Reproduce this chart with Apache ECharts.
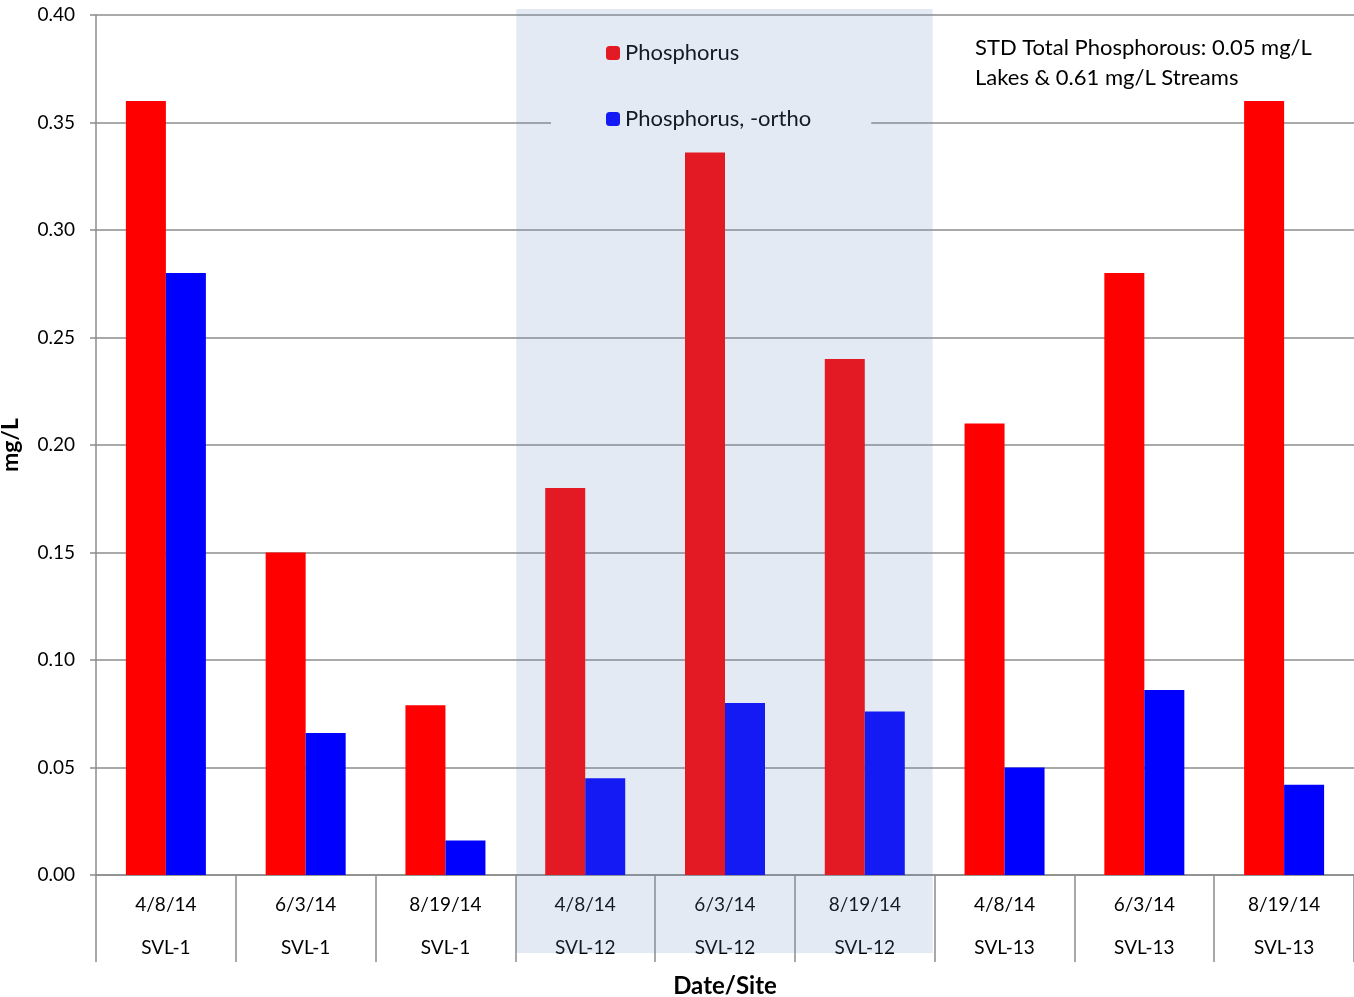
<!DOCTYPE html>
<html>
<head>
<meta charset="utf-8">
<script src="https://cdn.jsdelivr.net/npm/echarts@6/dist/echarts.min.js"></script>
<style>
  html, body { margin: 0; padding: 0; background: #fff; }
  #chart { width: 1354px; height: 997px; }
</style>
</head>
<body>
<div id="chart"></div>
<script>
  var dates = ['4/8/14', '6/3/14', '8/19/14', '4/8/14', '6/3/14', '8/19/14', '4/8/14', '6/3/14', '8/19/14'];
  var sites = ['SVL-1', 'SVL-1', 'SVL-1', 'SVL-12', 'SVL-12', 'SVL-12', 'SVL-13', 'SVL-13', 'SVL-13'];
  var phosphorus = [0.36, 0.15, 0.079, 0.18, 0.336, 0.24, 0.21, 0.28, 0.36];
  var orthoPhosphorus = [0.28, 0.066, 0.016, 0.045, 0.08, 0.076, 0.05, 0.086, 0.042];
  var yTicks = [0, 0.05, 0.10, 0.15, 0.20, 0.25, 0.30, 0.35, 0.40];
  var shadedFrom = 3, shadedTo = 5;

  var font = 'Lato, "Liberation Sans", sans-serif';
  var gridColor = '#8c8c8c';
  var categories = dates.map(function(d, i) { return d + '\n' + sites[i]; });

  var chart = echarts.init(document.getElementById('chart'), null, { renderer: 'canvas' });
  chart.setOption({
    animation: false,
    textStyle: { fontFamily: font },
    grid: { left: 96, right: 0, top: 15, bottom: 122, containLabel: false, outerBoundsMode: 'none' },
    legend: {
      orient: 'vertical',
      left: 551,
      top: 28,
      padding: [14, 60, 14, 55],
      backgroundColor: '#fff',
      itemWidth: 14,
      itemHeight: 14,
      itemGap: 44,
      textStyle: { fontSize: 22, color: '#000', fontFamily: font },
      data: ['Phosphorus', 'Phosphorus, -ortho']
    },
    xAxis: {
      type: 'category',
      data: categories,
      name: 'Date/Site',
      nameLocation: 'middle',
      nameGap: 96,
      nameTextStyle: { fontSize: 24, fontWeight: 'bold', color: '#000' },
      axisLine: { lineStyle: { color: gridColor, width: 1.5 } },
      axisTick: { show: true, length: 87, lineStyle: { color: gridColor, width: 1.5 } },
      axisLabel: { color: '#000', fontSize: 19, lineHeight: 43, margin: 8, interval: 0 }
    },
    yAxis: {
      type: 'value',
      min: yTicks[0],
      max: yTicks[yTicks.length - 1],
      interval: 0.05,
      name: 'mg/L',
      nameLocation: 'middle',
      nameGap: 74,
      nameTextStyle: { fontSize: 23, fontWeight: 'bold', color: '#000' },
      axisLine: { show: true, lineStyle: { color: gridColor, width: 1.5 } },
      axisTick: { show: true, length: 6, lineStyle: { color: gridColor, width: 1.5 } },
      splitLine: { lineStyle: { color: gridColor, width: 1.5 } },
      axisLabel: {
        color: '#000', fontSize: 19, margin: 21,
        formatter: function(v) { return v.toFixed(2); }
      }
    },
    series: [
      {
        name: 'Phosphorus',
        type: 'bar',
        data: phosphorus,
        barWidth: 40,
        barGap: '0%',
        itemStyle: { color: '#ff0000' }
      },
      {
        name: 'Phosphorus, -ortho',
        type: 'bar',
        data: orthoPhosphorus,
        barWidth: 40,
        barGap: '0%',
        itemStyle: { color: '#0000ff' }
      }
    ]
  });

  // shaded SVL-12 band + note text
  var c0 = chart.convertToPixel({ xAxisIndex: 0 }, shadedFrom);
  var c1 = chart.convertToPixel({ xAxisIndex: 0 }, shadedTo);
  var half = (chart.convertToPixel({ xAxisIndex: 0 }, 1) - chart.convertToPixel({ xAxisIndex: 0 }, 0)) / 2;
  chart.setOption({
    graphic: [
      {
        type: 'rect',
        z: 100,
        silent: true,
        shape: { x: c0 - half + 1, y: 9, width: (c1 - c0) + 2 * half - 3, height: 944 },
        style: { fill: 'rgba(103,141,190,0.184)' }
      },
      {
        type: 'text',
        z: 50,
        left: 975,
        top: 33,
        style: {
          text: 'STD Total Phosphorous: 0.05 mg/L\nLakes & 0.61 mg/L Streams',
          font: '22px ' + font,
          fill: '#000',
          lineHeight: 30
        }
      }
    ]
  });
</script>
</body>
</html>
